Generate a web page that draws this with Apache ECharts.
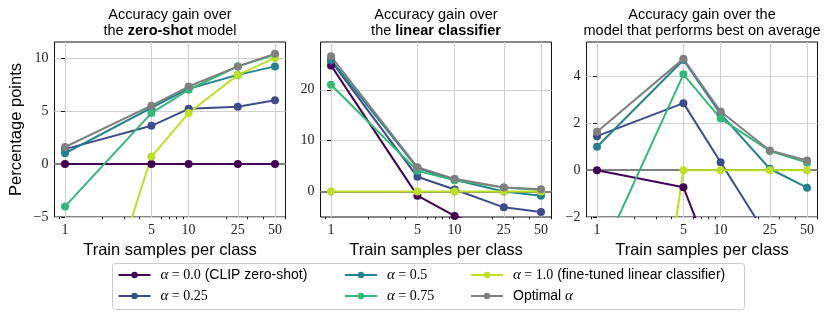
<!DOCTYPE html>
<html><head><meta charset="utf-8">
<script src="https://cdn.jsdelivr.net/npm/echarts@6/dist/echarts.min.js"></script>
<style>html,body{margin:0;padding:0;background:#fff}#c{width:830px;height:318px}</style>
</head><body><div id="c"></div>
<script>
// ---------- data ----------
const trainSamples = [1, 5, 10, 25, 50];
const minorTickSamples = [0.9, 2, 3, 4, 6, 7, 8, 9, 20, 30, 40, 60];
const seriesNames = ['α = 0.0 (CLIP zero-shot)', 'α = 0.25', 'α = 0.5', 'α = 0.75',
                     'α = 1.0 (fine-tuned linear classifier)', 'Optimal α'];
const seriesColors = ['#440154', '#3e4c8a', '#26828e', '#35b779', '#bddf26', '#808080'];

// Panel 1: gain over the zero-shot model
const zeroShotA000 = [0, 0, 0, 0, 0];
const zeroShotA025 = [1.4, 3.6, 5.2, 5.4, 6.0];
const zeroShotA050 = [1.0, 5.3, 7.1, 8.4, 9.2];
const zeroShotA075 = [-4.0, 4.8, 7.0, 9.2, 10.3];
const zeroShotA100 = [-24.8, 0.7, 4.8, 8.4, 10.0];
const zeroShotOpt  = [1.6, 5.5, 7.3, 9.2, 10.4];
const yTicksZeroShot = [-5, 0, 5, 10];

// Panel 2: gain over the linear classifier
const linearA000 = [24.8, -0.8, -4.8, -8.4, -10.0];
const linearA025 = [25.7, 2.9, 0.4, -3.1, -4.0];
const linearA050 = [25.9, 4.6, 2.3, 0.0, -0.8];
const linearA075 = [21.0, 4.1, 2.2, 0.8, 0.3];
const linearA100 = [0, 0, 0, 0, 0];
const linearOpt  = [26.6, 4.8, 2.5, 0.8, 0.45];
const yTicksLinear = [0, 10, 20];

// Panel 3: gain over the model that performs best on average
const bestA000 = [0, -0.73, -4.8, -8.4, -10.0];
const bestA025 = [1.45, 2.86, 0.34, -3.0, -4.0];
const bestA050 = [1.0, 4.7, 2.4, 0.06, -0.75];
const bestA075 = [-4.0, 4.09, 2.2, 0.82, 0.32];
const bestA100 = [-24.8, 0, 0, 0, 0];
const bestOpt  = [1.64, 4.75, 2.5, 0.84, 0.41];
const yTicksBest = [-2, 0, 2, 4];

// ---------- layout ----------
const panels = [
  { left: 54.5, yMin: -5, yMax: 11.5, yTicks: yTicksZeroShot,
    series: [zeroShotA000, zeroShotA025, zeroShotA050, zeroShotA075, zeroShotA100, zeroShotOpt],
    title1: 'Accuracy gain over', title2: '{n|the }{b|zero-shot}{n| model}' },
  { left: 320.5, yMin: -5, yMax: 29.4, yTicks: yTicksLinear,
    series: [linearA000, linearA025, linearA050, linearA075, linearA100, linearOpt],
    title1: 'Accuracy gain over', title2: '{n|the }{b|linear classifier}' },
  { left: 586.5, yMin: -2, yMax: 5.47, yTicks: yTicksBest,
    series: [bestA000, bestA025, bestA050, bestA075, bestA100, bestOpt],
    title1: 'Accuracy gain over the', title2: '{n|model that performs best on average}' }
];
const GW = 231, GT = 42, GH = 175;
const xMinLog = Math.log10(0.822), xMaxLog = Math.log10(60.8);
const SANS = '"Liberation Sans", Arial, sans-serif';
const SERIF = '"Liberation Serif", "Times New Roman", serif';

const grids = [], xAxes = [], yAxes = [], series = [], graphics = [];
const fmtNum = v => String(v).replace('-', '\u2212');

panels.forEach((p, i) => {
  grids.push({ left: p.left, top: GT, width: GW, height: GH, show: true,
    borderColor: '#111', borderWidth: 1, backgroundColor: 'transparent' });
  xAxes.push({ type: 'value', gridIndex: i, min: xMinLog, max: xMaxLog, position: 'bottom',
    name: 'Train samples per class', nameLocation: 'middle', nameGap: 22,
    nameTextStyle: { fontFamily: SANS, fontSize: 16.5, color: '#000' },
    axisLine: { show: false },
    axisTick: { show: true, inside: false, length: 4, lineStyle: { color: '#111' },
                customValues: trainSamples.map(v => Math.log10(v)) },
    axisLabel: { show: true, margin: 6, fontFamily: SERIF, fontSize: 14, color: '#222',
                 customValues: trainSamples.map(v => Math.log10(v)),
                 formatter: v => String(Math.round(Math.pow(10, v))) },
    splitLine: { show: true, lineStyle: { color: '#cfcfcf', width: 1 } } });
  yAxes.push({ type: 'value', gridIndex: i, min: p.yMin, max: p.yMax,
    name: i === 0 ? 'Percentage points' : '', nameLocation: 'middle', nameGap: 30,
    nameTextStyle: { fontFamily: SANS, fontSize: 16.5, color: '#000' },
    axisLine: { show: false },
    axisTick: { show: true, inside: false, length: 4, lineStyle: { color: '#111' }, customValues: p.yTicks },
    axisLabel: { show: true, margin: 6, fontFamily: SERIF, fontSize: 14, color: '#222',
                 customValues: p.yTicks, formatter: fmtNum },
    splitLine: { show: true, lineStyle: { color: '#cfcfcf', width: 1 } } });
  p.series.forEach((vals, k) => {
    const s = { type: 'line', name: seriesNames[k], xAxisIndex: i, yAxisIndex: i,
      data: trainSamples.map((n, j) => [Math.log10(n), vals[j]]),
      color: seriesColors[k], symbol: 'circle', symbolSize: 8, showSymbol: true,
      lineStyle: { width: 2, color: seriesColors[k] }, itemStyle: { color: seriesColors[k] },
      clip: true, silent: true, animation: false };
    if (k === 0) {
      s.markLine = { silent: true, symbol: 'none', z: 1, animation: false,
        label: { show: false }, lineStyle: { color: '#808080', width: 2, type: 'solid' },
        data: [{ yAxis: 0 }] };
    }
    series.push(s);
  });
  const cx = p.left + GW / 2;
  graphics.push({ type: 'text', x: cx, y: 15, silent: true,
    style: { text: p.title1, align: 'center', verticalAlign: 'middle',
             font: '14.5px ' + SANS, fill: '#000' } });
  graphics.push({ type: 'text', x: cx, y: 31, silent: true,
    style: { text: p.title2, align: 'center', verticalAlign: 'middle', fill: '#000',
             rich: { n: { fontFamily: SANS, fontSize: 14.5, color: '#000' },
                     b: { fontFamily: SANS, fontSize: 14.5, fontWeight: 'bold', color: '#000' } } } });
});

// minor ticks on the log x axes (second, label-less axis in each grid)
panels.forEach((p, i) => {
  xAxes.push({ type: 'value', gridIndex: i, min: xMinLog, max: xMaxLog, position: 'bottom',
    axisLine: { show: false }, splitLine: { show: false }, axisLabel: { show: false },
    axisTick: { show: true, inside: false, length: 2.2, lineStyle: { color: '#111' },
                customValues: minorTickSamples.map(v => Math.log10(v)) } });
});

// legend box
graphics.push({ type: 'rect', z: -10, silent: true,
  shape: { x: 112.5, y: 263.5, width: 632, height: 46, r: 3 },
  style: { fill: '#fff', stroke: '#cccccc', lineWidth: 1 } });

const legendFormatter = name => {
  const m = name.match(/^α = ([\d.]+)(.*)$/);
  if (m) return '{p| }{a|α}{m| = ' + m[1] + '}' + (m[2] ? '{s|' + m[2] + '}' : '');
  return '{p| }{s|Optimal }{a|α}';
};
const legendRich = {
  p: { width: 5, fontSize: 10, lineHeight: 16 },
  a: { fontFamily: SERIF, fontStyle: 'italic', fontSize: 15, color: '#000', lineHeight: 16 },
  m: { fontFamily: SERIF, fontSize: 14, color: '#000', lineHeight: 16 },
  s: { fontFamily: SANS, fontSize: 14, color: '#000', lineHeight: 16 }
};
const legendCols = [[0, 1], [2, 3], [4, 5]];
const legendLefts = [117.5, 344, 470];
const legends = legendCols.map((ids, c) => ({
  orient: 'vertical', left: legendLefts[c], top: 267.5, padding: 0,
  itemWidth: 32, itemHeight: 8, itemGap: 6, selectedMode: false,
  data: ids.map(k => seriesNames[k]), formatter: legendFormatter,
  textStyle: { rich: legendRich, color: '#000' }
}));

const chart = echarts.init(document.getElementById('c'), null, { renderer: 'canvas' });
chart.setOption({
  animation: false,
  backgroundColor: '#fff',
  grid: grids, xAxis: xAxes, yAxis: yAxes, series: series,
  legend: legends, graphic: graphics
});
</script></body></html>
